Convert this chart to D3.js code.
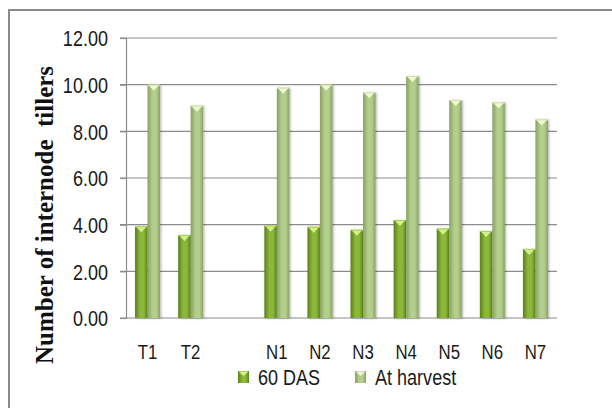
<!DOCTYPE html>
<html>
<head>
<meta charset="utf-8">
<script src="https://cdn.jsdelivr.net/npm/d3@7"></script>
<style>
  html, body { margin: 0; padding: 0; background: #fff; }
  svg { display: block; }
</style>
</head>
<body>
<svg id="chart" width="612" height="408"></svg>
<script>
// Treatments (the blank entry keeps the gap between the T and N groups)
const categories = ["T1", "T2", " ", "N1", "N2", "N3", "N4", "N5", "N6", "N7"];
const seriesNames = ["60 DAS", "At harvest"];
const das60 = [3.93, 3.56, null, 3.96, 3.91, 3.78, 4.20, 3.83, 3.73, 2.96];
const atHarvest = [10.00, 9.10, null, 9.87, 10.00, 9.67, 10.37, 9.34, 9.24, 8.51];
const yTicks = [0, 2, 4, 6, 8, 10, 12];

const svg = d3.select("#chart");
const W = 612, H = 408;
const plot = { left: 126, right: 557, top: 38, bottom: 318 };
const labelFont = "'Liberation Sans', Arial, sans-serif";
const narrow = 0.82; // horizontal squeeze for a condensed look

// outer frame
svg.append("rect")
  .attr("x", 9).attr("y", 10).attr("width", W + 20).attr("height", H + 20)
  .attr("fill", "#fff").attr("stroke", "#8a8a8a").attr("stroke-width", 2);

const defs = svg.append("defs");
const palettes = [
  { id: "g0", edge: "#5b7f1c", mid: "#8bb83a", cap: "#d4f08a", capEdge: "#a9d452" },
  { id: "g1", edge: "#88a263", mid: "#b4ce8c", cap: "#eef8d4", capEdge: "#cfe3ac" }
];
palettes.forEach(p => {
  const g = defs.append("linearGradient").attr("id", p.id)
    .attr("x1", "0").attr("x2", "1").attr("y1", "0").attr("y2", "0");
  g.append("stop").attr("offset", "0").attr("stop-color", p.edge);
  g.append("stop").attr("offset", "0.4").attr("stop-color", p.mid);
  g.append("stop").attr("offset", "0.7").attr("stop-color", p.mid);
  g.append("stop").attr("offset", "1").attr("stop-color", p.edge);
});
const shadow = defs.append("filter").attr("id", "shadow")
  .attr("x", "-30%").attr("y", "-10%").attr("width", "160%").attr("height", "120%");
shadow.append("feDropShadow").attr("dx", 1.2).attr("dy", 0.5)
  .attr("stdDeviation", 0.9).attr("flood-color", "#000").attr("flood-opacity", 0.3);

const x0 = d3.scaleBand()
  .domain(categories)
  .range([plot.left, plot.right])
  .paddingInner(0.42)
  .paddingOuter(0.21);
const x1 = d3.scaleBand()
  .domain(seriesNames)
  .range([0, x0.bandwidth()])
  .padding(0);
const y = d3.scaleLinear().domain([0, 12]).range([plot.bottom, plot.top]);

// gridlines
svg.append("g")
  .selectAll("line").data(yTicks).join("line")
  .attr("x1", plot.left - 6).attr("x2", plot.right)
  .attr("y1", d => y(d)).attr("y2", d => y(d))
  .attr("stroke", "#8c8c8c").attr("stroke-width", 1.2);

// y axis
const yAxis = svg.append("g")
  .attr("transform", `translate(${plot.left},0)`)
  .call(d3.axisLeft(y).tickValues(yTicks).tickFormat(d3.format(".2f"))
    .tickSize(6).tickPadding(12));
yAxis.select(".domain").attr("stroke", "#8c8c8c").attr("stroke-width", 1.2);
yAxis.selectAll(".tick line").attr("stroke", "#8c8c8c").attr("stroke-width", 1.2);
yAxis.selectAll(".tick text")
  .attr("font-family", labelFont)
  .attr("font-size", 22).attr("fill", "#1a1a1a")
  .attr("dy", "0.36em")
  .attr("transform", function () {
    const tx = +this.getAttribute("x");
    return `translate(${tx},0) scale(${narrow},1)`;
  })
  .attr("x", 0);

// bars
const rows = categories.map((c, i) => ({ cat: c, vals: [das60[i], atHarvest[i]] }));
const groups = svg.append("g").selectAll("g").data(rows).join("g")
  .attr("transform", d => `translate(${x0(d.cat)},0)`);

const bars = groups.selectAll("g")
  .data(d => d.vals.map((v, k) => ({ v, k })).filter(e => e.v !== null))
  .join("g");

bars.append("rect")
  .attr("x", d => x1(seriesNames[d.k]))
  .attr("y", d => y(d.v))
  .attr("width", x1.bandwidth())
  .attr("height", d => y(0) - y(d.v))
  .attr("fill", d => `url(#${palettes[d.k].id})`)
  .attr("filter", "url(#shadow)");

// bevelled cap on each bar
bars.append("polygon")
  .attr("points", d => {
    const bx = x1(seriesNames[d.k]), bw = x1.bandwidth(), by = y(d.v);
    return [[bx + 0.5, by], [bx + bw - 0.5, by], [bx + bw / 2, by + 6]].map(p => p.join(",")).join(" ");
  })
  .attr("fill", d => palettes[d.k].cap);
bars.append("line")
  .attr("x1", d => x1(seriesNames[d.k]))
  .attr("x2", d => x1(seriesNames[d.k]) + x1.bandwidth())
  .attr("y1", d => y(d.v) + 0.5).attr("y2", d => y(d.v) + 0.5)
  .attr("stroke", d => palettes[d.k].capEdge).attr("stroke-width", 1);

// category labels
svg.append("g").selectAll("text").data(categories).join("text")
  .attr("transform", d => `translate(${x0(d) + x0.bandwidth() / 2},359) scale(${narrow},1)`)
  .attr("text-anchor", "middle")
  .attr("font-family", labelFont)
  .attr("font-size", 20.5).attr("fill", "#1a1a1a")
  .text(d => d.trim());

// y axis title
svg.append("text")
  .attr("transform", "translate(53,215) rotate(-90)")
  .attr("text-anchor", "middle")
  .attr("font-family", "'Liberation Serif', 'Times New Roman', serif")
  .attr("font-weight", "bold")
  .attr("font-size", 25)
  .attr("fill", "#111")
  .style("white-space", "pre")
  .text("Number of internode  tillers");

// legend
const legendX = [238, 355];
const legend = svg.append("g").selectAll("g").data(seriesNames).join("g")
  .attr("transform", (d, i) => `translate(${legendX[i]},371)`);
legend.append("rect")
  .attr("width", 11).attr("height", 12)
  .attr("fill", (d, i) => `url(#${palettes[i].id})`);
legend.append("polygon")
  .attr("points", "0.5,0.5 10.5,0.5 5.5,5")
  .attr("fill", (d, i) => palettes[i].cap);
legend.append("text")
  .attr("transform", `translate(20,13.5) scale(${narrow},1)`)
  .attr("font-family", labelFont)
  .attr("font-size", 22).attr("fill", "#1a1a1a")
  .text(d => d);
</script>
</body>
</html>
